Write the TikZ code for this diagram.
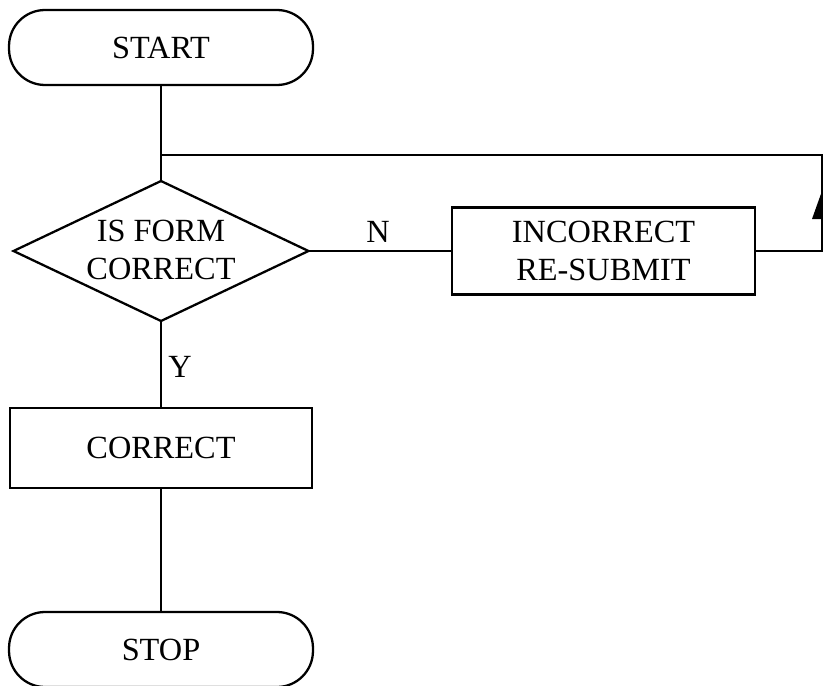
\documentclass[tikz,border=0pt]{standalone}
\usepackage{fontspec}
\setmainfont{Liberation Serif}
\usetikzlibrary{shapes.geometric}
\begin{document}
\begin{tikzpicture}[x=0.02cm,y=-0.02cm,
  every node/.style={font=\fontsize{18.4}{22}\selectfont, align=center, outer sep=0pt, inner sep=0pt},
  line/.style={line width=1.3pt},
  term/.style={draw, line width=1.3pt, rectangle, rounded corners=0.72cm, minimum width=6.08cm, minimum height=1.5cm},
  proc/.style={draw, line width=1.3pt, rectangle},
  decide/.style={draw, line width=1.3pt, diamond, minimum width=5.9cm, minimum height=2.8cm},
  lbl/.style={}]
\clip (0,0) rectangle (825,686);
\node[term] (start) at (161,47.5) {START};
\node[decide] (dec) at (161,251) {};
\node (dectext) at (161,250) {IS FORM\\CORRECT};
\node[proc, minimum width=6.06cm, minimum height=1.74cm] (bad) at (603.5,251) {INCORRECT\\RE-SUBMIT};
\node[proc, minimum width=6.04cm, minimum height=1.6cm] (good) at (161,448) {CORRECT};
\node[term] (stop) at (161,649.5) {STOP};
\node[lbl] (n) at (378,232) {N};
\node[lbl] (y) at (180,367) {Y};
\coordinate (j) at (161,155);
\coordinate (r1) at (822,251);
\coordinate (r2) at (822,155);
\draw[line] (start.south) -- (dec.north);
\draw[line] (dec.east) -- (bad.west);
\draw[line] (dec.south) -- (good.north);
\draw[line] (good.south) -- (stop.north);
\draw[line, line join=miter] (bad.east) -- (r1) -- (r2) -- (j);
\fill (812,219) -- (822,219) -- (822,191) -- cycle;
\end{tikzpicture}
\end{document}
